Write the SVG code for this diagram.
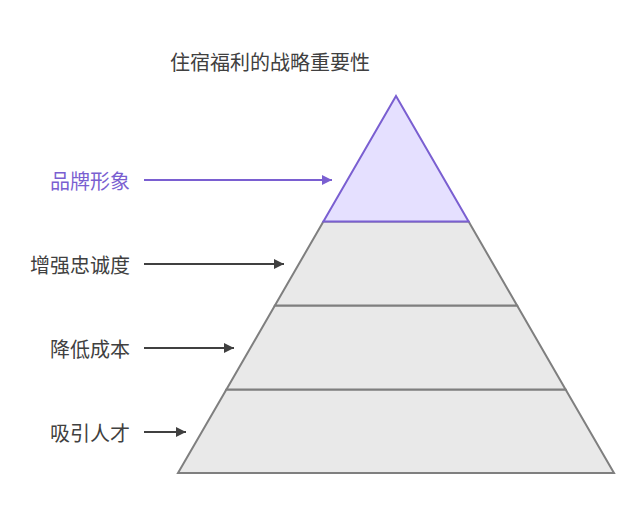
<svg xmlns="http://www.w3.org/2000/svg" width="639" height="523" viewBox="0 0 639 523">
<style>
.lbl{font-family:"Noto Sans CJK SC","Liberation Sans",sans-serif;font-size:20px;fill:#404040;text-anchor:end;dominant-baseline:central}
.title{font-family:"Noto Sans CJK SC","Liberation Sans",sans-serif;font-size:20px;fill:#404040;text-anchor:middle;dominant-baseline:central}
.lvl{fill:#e9e9e9;stroke:#7f7f7f;stroke-width:2;stroke-linejoin:miter}
.top{fill:#e5e0ff;stroke:#7a5fd1;stroke-width:2}
.ln{stroke:#404040;stroke-width:2;fill:none}
.lnp{stroke:#7a5fd1;stroke-width:2;fill:none}
</style>
<defs>
<marker id="ah" viewBox="0 0 10 10" refX="10" refY="5" markerWidth="5" markerHeight="5" markerUnits="strokeWidth" orient="auto"><path d="M0,0L10,5L0,10z" fill="#404040"/></marker>
<marker id="ahp" viewBox="0 0 10 10" refX="10" refY="5" markerWidth="5" markerHeight="5" markerUnits="strokeWidth" orient="auto"><path d="M0,0L10,5L0,10z" fill="#7a5fd1"/></marker>
</defs>
<text class="title" x="270" y="61">住宿福利的战略重要性</text>
<g id="level4">
<polygon class="lvl" points="226.4,389.5 565.6,389.5 614,473 178,473"/>
<text class="lbl" x="130" y="432">吸引人才</text>
</g>
<g id="level3">
<polygon class="lvl" points="274.9,305.5 517.1,305.5 565.6,389.5 226.4,389.5"/>
<text class="lbl" x="130" y="348">降低成本</text>
</g>
<g id="level2">
<polygon class="lvl" points="323.4,221.5 468.6,221.5 517.1,305.5 274.9,305.5"/>
<text class="lbl" x="130" y="264">增强忠诚度</text>
</g>
<g id="level1">
<polygon class="top" points="396,96 468.6,221.5 323.4,221.5"/>
<text class="lbl" x="130" y="180" style="fill:#7a5fd1">品牌形象</text>
</g>
<g id="connectors">
<line class="lnp" x1="144" y1="180" x2="332" y2="180" marker-end="url(#ahp)"/>
<line class="ln" x1="144" y1="264" x2="284" y2="264" marker-end="url(#ah)"/>
<line class="ln" x1="144" y1="348" x2="234" y2="348" marker-end="url(#ah)"/>
<line class="ln" x1="144" y1="432" x2="186" y2="432" marker-end="url(#ah)"/>
</g>
</svg>
